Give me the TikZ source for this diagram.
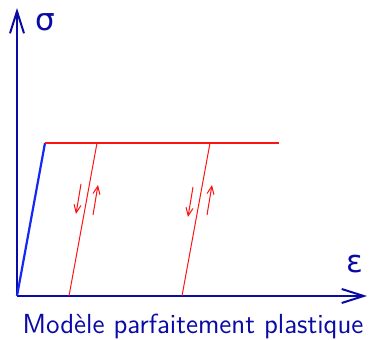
\documentclass[tikz,border=0pt]{standalone}
\usepackage{tikz}
\usetikzlibrary{arrows.meta, positioning, calc}
\usepackage{fontspec}
\newfontfamily\greekfont{DejaVu Sans}
\definecolor{axisblue}{RGB}{10,10,165}
\definecolor{elasticblue}{RGB}{20,40,245}
\definecolor{plastred}{RGB}{255,20,20}
\tikzset{
    axis/.style={line width=1.1pt, draw=axisblue, -{Straight Barb[length=11pt, width=7pt, line width=1pt]}},
    elastic/.style={line width=1.1pt, draw=elasticblue},
    plastic/.style={line width=1.1pt, draw=plastred},
    unload/.style={line width=0.5pt, draw=plastred},
    cycle/.style={line width=0.5pt, draw=plastred, -{Straight Barb[length=4pt, width=3.5pt]}},
    lbl/.style={text=axisblue, font=\sffamily},
    greek/.style={text=axisblue, font=\greekfont\fontsize{15.5}{18}\selectfont}
}
\begin{document}
\begin{tikzpicture}[x=0.5pt, y=-0.5pt]
        \useasboundingbox (0,0) rectangle (370,340);
        % axes
        \coordinate (O) at (17,296);
        \coordinate (ytip) at (17,8);
        \coordinate (xtip) at (367,296);
        \draw[axis] (O) -- (ytip);
        \draw[axis] (O) -- (xtip);
        \node[greek] (sigma) at (45,22) {σ};
        \node[greek] (eps) at (355,264) {ε};
        % elastic then perfectly plastic
        \coordinate (Y) at (45,143);
        \coordinate (E) at (279,143);
        \draw[elastic] (O) -- (Y);
        \draw[plastic] (Y) -- (E);
        % unloading lines
        \coordinate (A1) at (97,143);
        \coordinate (B1) at (69,296);
        \coordinate (A2) at (210,143);
        \coordinate (B2) at (182,296);
        \draw[unload] (A1) -- (B1);
        \draw[unload] (A2) -- (B2);
        % load / unload arrows
        \draw[cycle] (81,184) -- (76,214);
        \draw[cycle] (93,215) -- (98,185);
        \draw[cycle] (193,187) -- (188,217);
        \draw[cycle] (207,215) -- (212,185);
        \node[lbl, font=\sffamily\fontsize{13.8}{17}\selectfont] (caption) at (193,326) {Mod\`ele parfaitement plastique};
    \end{tikzpicture}
\end{document}
